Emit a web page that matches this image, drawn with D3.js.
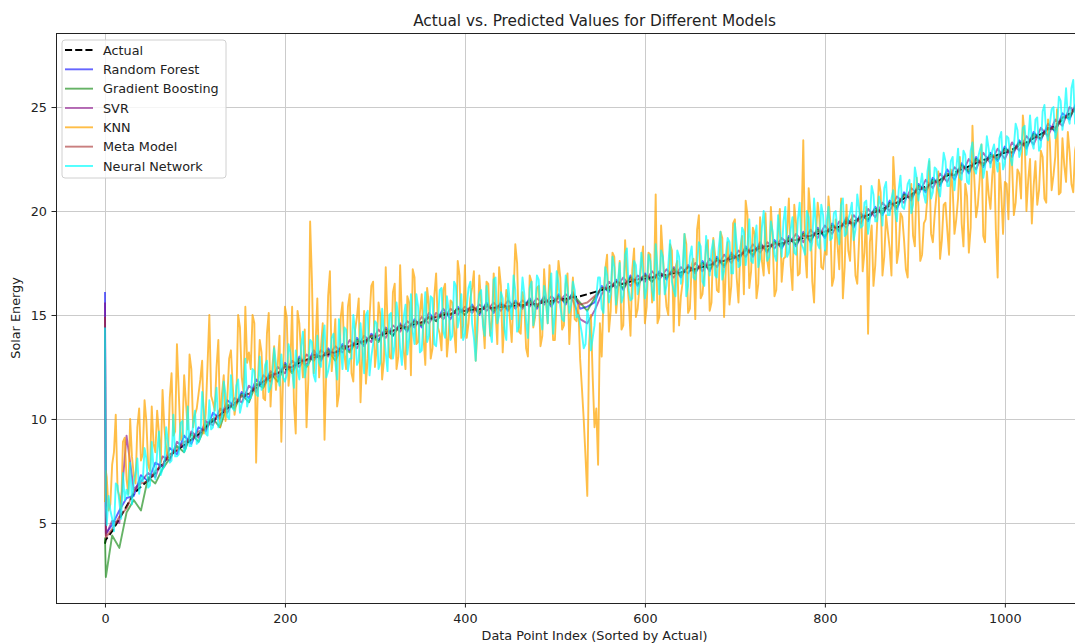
<!DOCTYPE html>
<html>
<head>
<meta charset="utf-8">
<script src="https://cdnjs.cloudflare.com/ajax/libs/d3/7.8.5/d3.min.js"></script>
<style>
  body { margin: 0; background: #fff; }
  svg { display: block; font-family: "DejaVu Sans", sans-serif; }
</style>
</head>
<body>
<div id="svgzone"></div>
<script>
// data point index of each stored value (sampling grids)
const coarseIdx = [0, 1].concat(d3.range(8, 1089, 8));   // 138 points
const fineIdx = [0, 1].concat(d3.range(4, 1089, 4));     // 274 points
const midIdx = d3.range(2, 1087, 4);                     // 272 points, between the fine ones

const seriesNames = ["Actual", "Random Forest", "Gradient Boosting", "SVR", "KNN", "Meta Model", "Neural Network"];
const xTicks = [0, 200, 400, 600, 800, 1000];
const yTicks = [5, 10, 15, 20, 25];

// coarse grid series (rows of 8 start at 8, 72, 136, ...)
const actualVals = [4.0, 4.2,
  4.6, 5.2, 5.8, 6.4, 6.75, 7.05, 7.4, 7.85,
  8.25, 8.5, 8.75, 9.0, 9.25, 9.6, 9.9, 10.2,
  10.5, 10.75, 11.0, 11.25, 11.5, 11.8, 12.0, 12.2,
  12.35, 12.5, 12.7, 12.85, 12.95, 13.05, 13.1, 13.2,
  13.35, 13.5, 13.6, 13.75, 13.85, 14.0, 14.1, 14.25,
  14.35, 14.45, 14.55, 14.65, 14.8, 14.9, 15.0, 15.05,
  15.15, 15.2, 15.25, 15.28, 15.32, 15.35, 15.38, 15.42,
  15.45, 15.48, 15.5, 15.55, 15.62, 15.68, 15.72, 15.78,
  15.85, 15.9, 16.0, 16.1, 16.2, 16.35, 16.45, 16.5,
  16.6, 16.7, 16.75, 16.8, 16.88, 16.95, 17.0, 17.05,
  17.12, 17.2, 17.3, 17.4, 17.5, 17.6, 17.7, 17.85,
  18.0, 18.1, 18.2, 18.3, 18.35, 18.45, 18.55, 18.6,
  18.7, 18.8, 18.9, 19.0, 19.1, 19.25, 19.4, 19.5,
  19.65, 19.8, 19.95, 20.1, 20.25, 20.4, 20.6, 20.8,
  21.0, 21.2, 21.35, 21.5, 21.7, 21.85, 22.0, 22.15,
  22.3, 22.45, 22.55, 22.7, 22.8, 22.95, 23.15, 23.3,
  23.5, 23.7, 23.9, 24.1, 24.4, 24.7, 25.0, 25.4];

const rfVals = [16.1, 4.5,
  4.9, 5.6, 6.2, 6.3, 7.3, 7.0, 7.9, 7.7,
  8.6, 8.3, 9.2, 8.8, 9.6, 9.4, 10.3, 10.0,
  10.9, 10.6, 11.3, 11.0, 11.9, 11.6, 12.3, 12.0,
  12.7, 12.3, 13.0, 12.6, 13.3, 12.8, 13.4, 13.0,
  13.6, 13.3, 13.9, 13.5, 14.1, 13.8, 14.4, 14.0,
  14.6, 14.2, 14.8, 14.4, 15.1, 14.7, 15.3, 14.8,
  15.4, 15.0, 15.5, 15.0, 15.6, 15.1, 15.6, 15.2,
  15.7, 15.3, 15.8, 15.3, 15.9, 15.4, 16.0, 15.5,
  16.1, 15.3, 15.4, 15.6, 16.4, 16.1, 16.7, 16.2,
  16.9, 16.4, 17.0, 16.6, 17.1, 16.7, 17.3, 16.8,
  17.4, 17.0, 17.6, 17.1, 17.8, 17.3, 18.0, 17.6,
  18.3, 17.8, 18.5, 18.0, 18.6, 18.2, 18.8, 18.3,
  19.0, 18.5, 19.2, 18.7, 19.4, 19.0, 19.7, 19.2,
  19.9, 19.5, 20.2, 19.8, 20.5, 20.1, 20.9, 20.5,
  21.3, 20.9, 21.6, 21.2, 22.0, 21.5, 22.3, 21.8,
  22.6, 22.1, 22.8, 22.4, 23.1, 22.6, 23.4, 23.0,
  23.8, 23.4, 24.2, 23.8, 24.7, 24.4, 25.3, 25.1];

const gbVals = [4.3, 2.4,
  4.4, 3.8, 5.5, 6.1, 5.6, 7.2, 6.9, 7.6,
  8.1, 8.7, 8.4, 9.3, 8.9, 9.7, 10.0, 9.6,
  10.7, 10.5, 11.2, 10.8, 11.7, 11.5, 12.2, 11.8,
  12.6, 12.2, 12.9, 12.5, 13.1, 12.9, 13.3, 12.8,
  13.5, 13.2, 13.8, 13.6, 14.0, 13.7, 14.3, 14.0,
  14.5, 14.3, 14.7, 14.5, 14.9, 14.7, 15.1, 15.0,
  15.3, 15.0, 15.4, 15.1, 15.5, 15.2, 15.5, 15.3,
  15.6, 15.4, 15.7, 15.4, 15.8, 15.5, 15.9, 15.6,
  16.0, 15.6, 15.2, 15.8, 16.3, 16.2, 16.6, 16.3,
  16.8, 16.5, 16.9, 16.6, 17.0, 16.8, 17.2, 16.9,
  17.3, 17.1, 17.5, 17.2, 17.7, 17.4, 17.9, 17.7,
  18.2, 17.9, 18.4, 18.1, 18.5, 18.3, 18.7, 18.4,
  18.9, 18.6, 19.1, 18.8, 19.3, 19.1, 19.6, 19.3,
  19.8, 19.6, 20.1, 19.9, 20.4, 20.2, 20.8, 20.6,
  21.2, 21.0, 21.5, 21.3, 21.8, 21.7, 22.2, 21.9,
  22.5, 22.2, 22.7, 22.5, 23.0, 22.8, 23.3, 23.1,
  23.7, 23.5, 24.0, 23.9, 24.5, 24.5, 25.1, 25.3];

const svrVals = [15.6, 4.4,
  5.1, 5.0, 9.2, 6.6, 7.0, 7.4, 7.2, 8.2,
  8.0, 8.9, 8.6, 9.4, 9.1, 9.9, 9.7, 10.5,
  10.3, 11.0, 10.8, 11.6, 11.3, 12.1, 11.8, 12.5,
  12.2, 12.8, 12.5, 13.1, 12.8, 13.3, 13.0, 13.5,
  13.2, 13.8, 13.4, 14.0, 13.7, 14.3, 13.9, 14.5,
  14.2, 14.7, 14.4, 14.9, 14.6, 15.1, 14.8, 15.3,
  15.0, 15.4, 15.1, 15.5, 15.2, 15.6, 15.2, 15.7,
  15.3, 15.7, 15.4, 15.8, 15.5, 15.9, 15.6, 16.0,
  15.7, 14.8, 14.6, 15.2, 16.0, 16.6, 16.3, 16.8,
  16.4, 16.9, 16.6, 17.1, 16.7, 17.2, 16.8, 17.3,
  17.0, 17.5, 17.1, 17.7, 17.3, 17.9, 17.5, 18.1,
  17.8, 18.4, 18.0, 18.5, 18.2, 18.7, 18.4, 18.9,
  18.5, 19.1, 18.7, 19.3, 18.9, 19.5, 19.2, 19.8,
  19.4, 20.1, 19.7, 20.4, 20.0, 20.7, 20.4, 21.1,
  20.8, 21.5, 21.1, 21.8, 21.4, 22.1, 21.8, 22.5,
  22.0, 22.8, 22.3, 23.0, 22.5, 23.3, 22.9, 23.6,
  23.2, 24.0, 23.6, 24.4, 24.1, 25.0, 24.7, 25.6];

const metaVals = [14.9, 4.3,
  4.7, 5.3, 5.7, 6.5, 6.9, 7.0, 7.5, 7.8,
  8.3, 8.5, 8.9, 9.0, 9.4, 9.5, 10.0, 10.2,
  10.6, 10.7, 11.1, 11.2, 11.6, 11.8, 12.1, 12.2,
  12.5, 12.5, 12.8, 12.8, 13.1, 13.0, 13.2, 13.2,
  13.5, 13.5, 13.7, 13.7, 14.0, 14.0, 14.2, 14.2,
  14.5, 14.4, 14.7, 14.6, 14.9, 14.9, 15.1, 15.0,
  15.3, 15.2, 15.4, 15.2, 15.4, 15.3, 15.5, 15.4,
  15.6, 15.4, 15.6, 15.5, 15.7, 15.6, 15.8, 15.7,
  15.9, 15.5, 15.6, 15.9, 16.3, 16.3, 16.6, 16.5,
  16.7, 16.7, 16.9, 16.8, 17.0, 16.9, 17.1, 17.0,
  17.3, 17.2, 17.4, 17.4, 17.6, 17.6, 17.8, 17.8,
  18.1, 18.1, 18.3, 18.3, 18.4, 18.4, 18.6, 18.6,
  18.8, 18.8, 19.0, 19.0, 19.2, 19.2, 19.5, 19.4,
  19.7, 19.8, 20.0, 20.0, 20.3, 20.4, 20.7, 20.7,
  21.1, 21.1, 21.4, 21.4, 21.8, 21.7, 22.1, 22.0,
  22.4, 22.3, 22.6, 22.6, 22.9, 22.8, 23.2, 23.2,
  23.6, 23.5, 24.0, 24.0, 24.5, 24.6, 25.1, 25.3];

// fine grid series (rows of 10 start at 4, 44, 84, ...)
const knnVals = [6.0, 7.5,
  5.6, 7.8, 10.2, 6.3, 8.9, 7.1, 10.0, 7.3, 9.6, 8.0,
  10.9, 7.8, 10.6, 8.4, 9.3, 11.4, 8.6, 11.0, 9.2, 13.6,
  9.0, 12.1, 9.5, 12.4, 10.2, 11.2, 12.8, 10.3, 15.0, 10.8,
  12.5, 9.6, 12.1, 11.0, 13.3, 10.2, 15.0, 12.0, 15.4, 13.2,
  15.0, 7.9, 13.8, 11.0, 14.1, 10.6, 13.5, 12.6, 8.9, 15.4,
  11.6, 15.4, 9.3, 14.6, 12.0, 9.6, 19.5, 12.2, 15.8, 13.4,
  9.0, 15.9, 12.3, 14.8, 11.2, 15.6, 12.4, 16.0, 11.8, 14.9,
  10.8, 15.2, 12.9, 16.4, 12.5, 15.6, 11.9, 17.3, 13.0, 16.1,
  12.4, 17.4, 13.3, 15.9, 12.1, 16.8, 13.7, 16.0, 12.6, 15.5,
  13.4, 17.0, 14.1, 16.2, 13.0, 15.7, 14.3, 17.6, 13.9, 17.4,
  14.6, 16.3, 12.8, 16.9, 14.8, 16.6, 14.0, 17.0, 13.6, 16.4,
  14.9, 15.8, 13.7, 18.4, 14.2, 16.1, 13.4, 16.9, 14.4, 16.3,
  13.5, 17.2, 14.6, 16.0, 13.8, 17.6, 14.3, 16.5, 13.6, 16.8,
  14.7, 12.9, 10.0, 6.3, 15.0, 9.6, 7.8, 13.0, 17.2, 14.2,
  18.0, 15.1, 17.6, 14.5, 16.9, 14.0, 18.2, 15.3, 17.5, 14.6,
  18.0, 15.6, 20.8, 14.9, 17.8, 15.4, 18.4, 14.2, 17.6, 15.9,
  18.9, 15.1, 17.4, 14.8, 19.8, 16.0, 18.3, 15.2, 18.7, 16.2,
  19.0, 14.9, 18.5, 16.4, 19.6, 15.6, 18.8, 20.5, 16.3, 19.2,
  15.8, 19.7, 16.9, 17.6, 20.2, 15.9, 19.1, 16.6, 17.8, 20.6,
  16.2, 19.4, 17.0, 23.4, 16.8, 19.9, 15.6, 20.4, 17.3, 18.1,
  20.7, 16.4, 19.6, 17.2, 15.8, 20.3, 17.6, 18.9, 16.5, 21.2,
  18.0, 14.1, 19.3, 17.4, 21.5, 16.9, 19.8, 18.2, 22.6, 17.5,
  19.9, 18.6, 16.8, 21.3, 18.3, 20.2, 17.9, 19.6, 22.4, 18.5,
  20.8, 17.7, 20.3, 19.1, 22.0, 18.9, 20.6, 19.4, 21.3, 18.0,
  24.1, 19.7, 21.5, 18.8, 21.9, 20.1, 22.7, 16.8, 20.9, 21.4,
  19.6, 22.3, 20.4, 21.8, 24.6, 20.0, 22.5, 21.2, 20.3, 22.9,
  20.6, 24.4, 21.0, 22.6, 20.8, 23.5, 21.4, 22.8, 20.9, 23.4,
  22.1, 24.0];

// KNN at the in-between indices (rows of 10 start at 2, 42, 82, ...)
const knnValsMid = [
  7.2, 5.9, 8.4, 6.6, 5.7, 9.1, 6.4, 8.2, 6.9, 10.5,
  8.3, 9.9, 7.5, 8.8, 10.4, 7.9, 9.6, 8.1, 12.2, 9.4,
  11.3, 9.2, 10.8, 13.1, 9.6, 10.5, 11.9, 9.3, 12.6, 11.1,
  10.4, 13.8, 11.2, 9.9, 12.9, 11.6, 10.8, 14.4, 11.3, 12.7,
  12.4, 14.6, 11.8, 13.2, 10.9, 15.1, 12.5, 11.4, 14.0, 12.1,
  14.9, 12.6, 10.8, 15.2, 13.1, 14.3, 11.9, 16.7, 13.5, 12.0,
  14.6, 12.5, 17.1, 13.4, 10.6, 14.9, 13.1, 15.4, 12.2, 14.3,
  15.8, 13.2, 11.7, 14.9, 16.6, 13.4, 15.0, 12.8, 14.6, 12.9,
  16.5, 13.0, 14.8, 12.4, 15.6, 17.2, 13.6, 15.1, 13.9, 16.3,
  12.9, 15.9, 14.4, 13.3, 16.5, 14.0, 15.6, 13.2, 16.9, 14.5,
  13.9, 15.8, 17.1, 14.3, 15.6, 13.4, 16.5, 14.7, 15.2, 17.3,
  13.2, 16.2, 14.8, 15.9, 17.5, 14.1, 15.5, 13.0, 16.6, 14.9,
  16.4, 14.0, 15.7, 17.4, 13.8, 15.9, 16.8, 14.5, 17.0, 15.3,
  14.8, 15.5, 11.5, 8.2, 13.6, 12.0, 10.5, 14.6, 15.8, 17.9,
  15.2, 17.8, 16.1, 14.3, 18.6, 15.7, 17.2, 14.9, 16.4, 18.3,
  15.4, 17.9, 16.2, 14.6, 19.3, 16.5, 15.0, 18.1, 17.3, 14.5,
  16.6, 18.4, 15.3, 17.7, 19.1, 15.8, 17.0, 18.6, 15.6, 17.9,
  16.1, 18.7, 17.3, 15.5, 19.4, 16.8, 18.2, 16.0, 19.8, 17.1,
  18.9, 16.5, 17.6, 19.9, 17.0, 18.6, 16.2, 20.1, 17.7, 19.0,
  17.4, 20.3, 16.9, 19.2, 18.0, 21.1, 16.6, 18.7, 19.6, 17.2,
  17.9, 19.5, 16.8, 18.4, 20.6, 17.3, 18.1, 19.8, 16.9, 18.6,
  17.1, 20.2, 18.5, 16.4, 19.3, 20.9, 17.8, 19.0, 16.9, 21.0,
  18.1, 19.7, 17.2, 20.5, 18.8, 21.6, 17.6, 19.4, 20.7, 18.9,
  19.8, 21.9, 18.6, 20.4, 17.9, 21.1, 19.6, 22.6, 18.3, 20.7,
  19.2, 21.6, 20.3, 23.2, 18.5, 20.8, 21.7, 19.1, 22.3, 18.9,
  21.3, 23.1, 19.8, 22.0, 20.6, 23.6, 21.5, 19.4, 22.4, 21.0,
  22.6, 20.4, 23.3, 21.7, 24.9, 20.9, 22.2, 23.8, 21.3, 22.9,
  20.7, 23.2];

const nnVals = [14.4, 5.8,
  6.3, 5.2, 6.9, 6.0, 7.4, 6.6, 7.9, 7.0, 8.1, 7.2,
  8.6, 6.7, 8.9, 7.1, 9.4, 7.6, 9.6, 7.9, 10.2, 8.2,
  9.8, 8.4, 10.6, 8.7, 10.4, 8.9, 11.3, 9.3, 10.9, 9.6,
  11.5, 9.8, 11.8, 10.1, 12.1, 10.4, 11.9, 10.7, 12.9, 11.0,
  12.4, 11.2, 13.0, 11.6, 12.8, 11.5, 13.4, 12.0, 13.1, 11.8,
  13.6, 12.3, 13.3, 11.9, 14.2, 12.6, 13.8, 12.1, 14.0, 12.5,
  14.5, 12.3, 13.9, 12.7, 14.8, 12.4, 14.3, 12.9, 15.0, 12.6,
  14.6, 12.2, 15.2, 13.0, 14.7, 12.4, 15.3, 13.2, 15.0, 12.9,
  15.6, 13.4, 14.9, 13.1, 16.0, 13.6, 15.4, 13.3, 16.1, 14.0,
  15.8, 13.5, 16.2, 14.2, 15.9, 13.8, 16.6, 14.4, 16.0, 14.1,
  16.3, 14.6, 12.8, 16.0, 14.5, 16.4, 14.2, 16.7, 14.6, 16.1,
  14.3, 16.5, 14.8, 16.2, 14.4, 16.8, 14.7, 16.3, 14.5, 16.9,
  14.9, 16.4, 14.6, 17.0, 15.0, 16.5, 14.8, 16.9, 15.1, 16.6,
  14.9, 14.6, 13.4, 15.2, 13.3, 14.5, 16.8, 15.3, 17.3, 15.6,
  17.8, 15.5, 17.5, 15.9, 18.2, 15.7, 17.6, 16.0, 18.0, 15.8,
  17.9, 16.2, 18.4, 16.0, 17.8, 16.4, 18.6, 16.2, 18.1, 16.5,
  18.9, 16.4, 18.3, 16.7, 18.5, 16.6, 18.8, 16.9, 18.6, 16.8,
  19.0, 17.1, 18.7, 17.0, 19.4, 17.3, 19.2, 17.4, 19.6, 17.5,
  19.3, 17.7, 20.0, 17.6, 19.5, 17.9, 19.8, 17.8, 20.2, 18.0,
  19.7, 17.9, 20.4, 18.2, 20.0, 18.1, 20.6, 18.4, 20.3, 18.1,
  20.2, 18.7, 20.0, 18.4, 20.6, 18.9, 19.9, 18.6, 20.8, 19.2,
  20.4, 18.9, 21.2, 19.5, 20.7, 19.3, 21.4, 19.8, 21.0, 19.5,
  21.7, 20.1, 21.3, 19.9, 22.1, 20.5, 21.8, 20.4, 22.5, 20.9,
  22.0, 20.7, 22.8, 21.2, 22.4, 21.0, 23.0, 21.5, 22.7, 21.3,
  23.3, 21.8, 22.9, 21.6, 23.6, 22.1, 23.2, 21.9, 23.8, 22.3,
  23.5, 22.2, 24.2, 22.6, 24.0, 22.7, 24.6, 23.0, 24.5, 23.1,
  25.1, 23.4, 24.9, 23.5, 25.5, 23.9, 25.9, 24.2, 26.3, 24.6,
  26.0, 25.0];

// Neural network at the in-between indices (rows of 10 start at 2, 42, 82, ...)
const nnValsMid = [
  4.9, 5.6, 4.6, 6.8, 5.2, 6.1, 6.3, 5.9, 7.4, 6.4,
  7.0, 8.1, 6.8, 7.6, 8.4, 7.3, 7.7, 8.9, 8.0, 8.2,
  8.3, 9.9, 8.6, 8.7, 9.8, 8.8, 9.1, 10.4, 9.2, 9.5,
  10.6, 9.6, 10.1, 11.2, 10.0, 10.5, 11.6, 10.3, 10.9, 10.6,
  11.0, 12.3, 11.1, 11.4, 12.6, 11.3, 11.9, 12.7, 11.6, 12.0,
  12.1, 13.2, 11.5, 12.4, 13.5, 12.0, 12.6, 13.7, 11.8, 12.7,
  13.9, 12.0, 12.8, 14.1, 11.9, 13.4, 14.4, 12.3, 12.9, 14.2,
  12.8, 13.5, 15.0, 12.1, 13.6, 14.6, 12.7, 14.2, 12.3, 15.1,
  13.5, 14.9, 12.6, 15.5, 13.9, 14.2, 16.0, 13.2, 14.8, 13.7,
  15.9, 13.6, 14.6, 16.3, 13.9, 15.2, 14.0, 16.4, 14.9, 13.8,
  15.4, 16.6, 13.9, 15.1, 16.2, 14.0, 15.5, 13.7, 16.8, 15.0,
  15.8, 13.8, 15.6, 16.9, 14.2, 15.3, 16.0, 13.9, 16.6, 15.2,
  16.7, 14.3, 15.9, 16.2, 14.1, 17.1, 15.4, 14.7, 16.3, 15.5,
  16.2, 15.0, 14.1, 13.6, 14.8, 13.9, 15.9, 16.8, 15.1, 16.9,
  16.0, 17.3, 16.6, 15.6, 17.9, 16.2, 15.8, 17.4, 16.5, 17.1,
  16.3, 17.6, 15.7, 17.2, 18.1, 16.0, 17.4, 16.6, 15.9, 17.8,
  17.3, 15.9, 17.8, 16.8, 17.5, 18.3, 16.4, 17.9, 18.1, 16.9,
  18.2, 16.7, 17.9, 18.5, 17.0, 18.4, 17.4, 19.0, 18.3, 17.6,
  18.6, 17.3, 19.2, 18.4, 17.8, 19.0, 17.6, 18.9, 19.5, 17.8,
  19.1, 18.0, 19.6, 18.4, 17.9, 19.7, 18.5, 19.3, 18.2, 19.8,
  19.5, 18.6, 19.9, 19.0, 20.3, 18.8, 19.6, 20.4, 19.1, 20.1,
  19.3, 20.5, 19.6, 20.8, 19.5, 20.3, 21.1, 19.8, 20.6, 20.0,
  21.0, 20.2, 20.6, 21.5, 20.3, 21.6, 21.2, 20.8, 21.9, 20.6,
  22.1, 21.1, 21.7, 22.4, 21.2, 22.6, 22.0, 21.6, 22.9, 21.4,
  22.9, 22.0, 22.5, 23.2, 22.1, 23.0, 22.9, 22.4, 23.5, 22.0,
  23.6, 22.6, 23.1, 23.9, 22.9, 24.1, 23.4, 23.3, 24.4, 22.9,
  24.8, 23.7, 24.2, 25.0, 23.9, 25.3, 24.6, 24.5, 25.9, 24.2,
  25.6, 25.2];

// pair up index and value, merging the two grids where a series has both
function toPoints(idxA, valsA, idxB, valsB) {
    let pts = valsA.map(function (v, i) { return [idxA[i], v]; });
    if (idxB) {
        pts = pts.concat(valsB.map(function (v, i) { return [idxB[i], v]; }));
        pts.sort(function (a, b) { return a[0] - b[0]; });
    }
    return pts;
}

// drawing order follows the legend
const series = [
  { name: seriesNames[0], pts: toPoints(coarseIdx, actualVals), color: "black", opacity: 1, dash: "7.1,3.1" },
  { name: seriesNames[1], pts: toPoints(coarseIdx, rfVals), color: "blue", opacity: 0.6 },
  { name: seriesNames[2], pts: toPoints(coarseIdx, gbVals), color: "green", opacity: 0.6 },
  { name: seriesNames[3], pts: toPoints(coarseIdx, svrVals), color: "purple", opacity: 0.6 },
  { name: seriesNames[4], pts: toPoints(fineIdx, knnVals, midIdx, knnValsMid), color: "orange", opacity: 0.72 },
  { name: seriesNames[5], pts: toPoints(coarseIdx, metaVals), color: "brown", opacity: 0.6 },
  { name: seriesNames[6], pts: toPoints(fineIdx, nnVals, midIdx, nnValsMid), color: "cyan", opacity: 0.7 }
];

// Setting the dimensions and margins of the graph
let margin = { top: 33, left: 56 },
    fullWidth = 1075, fullHeight = 643,
    width = 1077,
    height = 570;

let root = d3.select("#svgzone")
    .append("svg")
    .attr("width", fullWidth)
    .attr("height", fullHeight);

root.append("rect")
    .attr("width", fullWidth)
    .attr("height", fullHeight)
    .attr("fill", "white");

let svg = root.append("g")
    .attr("transform", "translate(" + margin.left + "," + margin.top + ")");

// scales (matplotlib style 5% padding)
let x = d3.scaleLinear().domain([-54.4, 1142.4]).range([0, width]);
let y = d3.scaleLinear().domain([1.15, 28.56]).range([height, 0]);

// grid
svg.append("g")
    .attr("transform", "translate(0," + height + ")")
    .call(d3.axisBottom(x).tickValues(xTicks).tickSize(-height).tickFormat(""))
    .call(g => g.select(".domain").remove())
    .call(g => g.selectAll("line").attr("stroke", "#cbcbcb").attr("stroke-width", 1).attr("shape-rendering", "crispEdges"));
svg.append("g")
    .call(d3.axisLeft(y).tickValues(yTicks).tickSize(-width).tickFormat(""))
    .call(g => g.select(".domain").remove())
    .call(g => g.selectAll("line").attr("stroke", "#cbcbcb").attr("stroke-width", 1).attr("shape-rendering", "crispEdges"));

// lines
svg.append("clipPath").attr("id", "plotclip")
    .append("rect").attr("width", width).attr("height", height);

let plot = svg.append("g").attr("clip-path", "url(#plotclip)");

let line = d3.line()
    .x(function (d) { return x(d[0]); })
    .y(function (d) { return y(d[1]); });

series.forEach(function (s) {
    plot.append("path")
        .datum(s.pts)
        .attr("d", line)
        .attr("fill", "none")
        .attr("stroke", s.color)
        .attr("stroke-opacity", s.opacity)
        .attr("stroke-width", 1.9)
        .attr("stroke-linejoin", "round")
        .attr("stroke-dasharray", s.dash || null);
});

// axes
svg.append("g")
    .attr("transform", "translate(0," + height + ")")
    .call(d3.axisBottom(x).tickValues(xTicks).tickFormat(d3.format("d")).tickSize(4.5).tickSizeOuter(0).tickPadding(6.4))
    .call(g => g.select(".domain").remove())
    .call(g => g.selectAll("text").attr("font-size", "12.8px").attr("fill", "#222").attr("font-family", "DejaVu Sans"))
    .call(g => g.selectAll("line").attr("stroke", "#222"));

svg.append("g")
    .call(d3.axisLeft(y).tickValues(yTicks).tickFormat(d3.format("d")).tickSize(4.5).tickSizeOuter(0).tickPadding(4.5))
    .call(g => g.select(".domain").remove())
    .call(g => g.selectAll("text").attr("font-size", "12.8px").attr("fill", "#222").attr("font-family", "DejaVu Sans"))
    .call(g => g.selectAll("line").attr("stroke", "#222"));

// frame
svg.append("rect")
    .attr("width", width)
    .attr("height", height)
    .attr("fill", "none")
    .attr("stroke", "#222")
    .attr("stroke-width", 1)
    .attr("shape-rendering", "crispEdges");

// title and axis labels
root.append("text")
    .attr("x", 594.5)
    .attr("y", 26)
    .attr("text-anchor", "middle")
    .attr("font-size", "15.3px")
    .attr("fill", "#222")
    .text("Actual vs. Predicted Values for Different Models");

root.append("text")
    .attr("x", 594.5)
    .attr("y", 640)
    .attr("text-anchor", "middle")
    .attr("font-size", "12.8px")
    .attr("fill", "#222")
    .text("Data Point Index (Sorted by Actual)");

root.append("text")
    .attr("transform", "translate(20,318) rotate(-90)")
    .attr("text-anchor", "middle")
    .attr("font-size", "12.8px")
    .attr("fill", "#222")
    .text("Solar Energy");

// legend
let legend = root.append("g");
legend.append("rect")
    .attr("x", 62).attr("y", 40)
    .attr("width", 164).attr("height", 138)
    .attr("rx", 3)
    .attr("fill", "white").attr("fill-opacity", 0.8)
    .attr("stroke", "#d0d0d0");

legend.selectAll("legendLines")
    .data(series)
    .enter()
    .append("line")
    .attr("x1", 65).attr("x2", 93)
    .attr("y1", function (d, i) { return 50 + i * 19.33; })
    .attr("y2", function (d, i) { return 50 + i * 19.33; })
    .attr("stroke", function (d) { return d.color; })
    .attr("stroke-opacity", function (d) { return d.opacity; })
    .attr("stroke-width", 1.9)
    .attr("stroke-dasharray", function (d) { return d.dash || null; });

legend.selectAll("legendLabels")
    .data(series)
    .enter()
    .append("text")
    .attr("x", 103)
    .attr("y", function (d, i) { return 50 + i * 19.33; })
    .attr("dy", "0.36em")
    .attr("font-size", "12.8px")
    .attr("fill", "#222")
    .text(function (d) { return d.name; });
</script>
</body>
</html>
